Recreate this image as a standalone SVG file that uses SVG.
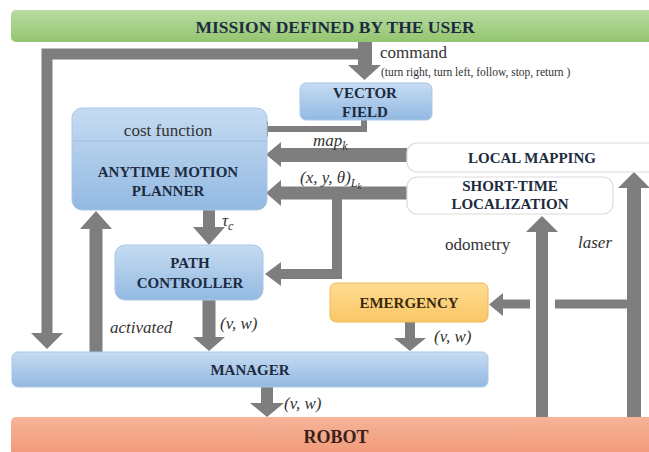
<svg xmlns="http://www.w3.org/2000/svg" width="649" height="452" viewBox="0 0 649 452">
  <defs>
    <linearGradient id="gBlue" x1="0" y1="0" x2="0" y2="1">
      <stop offset="0" stop-color="#c6dcf2"/>
      <stop offset="1" stop-color="#93b9e2"/>
    </linearGradient>
    <linearGradient id="gGreen" x1="0" y1="0" x2="0" y2="1">
      <stop offset="0" stop-color="#b9dca2"/>
      <stop offset="1" stop-color="#93c56f"/>
    </linearGradient>
    <linearGradient id="gSalmon" x1="0" y1="0" x2="0" y2="1">
      <stop offset="0" stop-color="#f6b497"/>
      <stop offset="1" stop-color="#f19776"/>
    </linearGradient>
    <linearGradient id="gOrange" x1="0" y1="0" x2="0" y2="1">
      <stop offset="0" stop-color="#fedc92"/>
      <stop offset="1" stop-color="#fac766"/>
    </linearGradient>
    <style>
      text { font-family: "Liberation Serif", "Times New Roman", "DejaVu Serif", serif; }
      .blue { fill: url(#gBlue); stroke: #a9c6e6; stroke-width: 1; }
      .white { fill: #ffffff; stroke: #dcdcdc; stroke-width: 1.2; }
      .title { font-weight: bold; font-size: 15px; fill: #1c2b40; text-anchor: middle; }
      .big { font-size: 17.5px; }
      .plain { font-size: 17px; fill: #333333; }
      .small { font-size: 11.5px; fill: #333333; }
      .ital { font-style: italic; font-size: 17px; fill: #333333; }
      .shaft { fill: none; stroke: #7e7e7e; stroke-linejoin: miter; stroke-linecap: butt; }
      .head { fill: #7e7e7e; }
    </style>
  </defs>

  <rect width="649" height="452" fill="#ffffff"/>

  <!-- connectors -->
  <g id="connectors">
    <!-- command from the mission bar, with branch to the manager -->
    <path class="shaft" stroke-width="14" d="M365 41 V66"/>
    <polygon class="head" points="348,65 381,65 364.5,80"/>
    <path class="shaft" stroke-width="11" d="M365 54 H47 V334"/>
    <polygon class="head" points="31,333 63,333 47,349"/>
    <!-- vector field to cost function -->
    <path class="shaft" stroke-width="6" d="M364 120 V129 H266"/>
    <polygon class="head" points="268,121 268,137 250,129"/>
    <!-- local map to planner -->
    <path class="shaft" stroke-width="14" d="M407 155 H280"/>
    <polygon class="head" points="281,142 281,167 266,154.5"/>
    <!-- pose to planner -->
    <path class="shaft" stroke-width="13" d="M407 193 H280"/>
    <polygon class="head" points="281,180 281,206 266,193"/>
    <!-- pose to path controller -->
    <path class="shaft" stroke-width="10" d="M337 193 V274 H280"/>
    <polygon class="head" points="281,262 281,286 265,274"/>
    <!-- tau_c -->
    <path class="shaft" stroke-width="12" d="M209 210 V228"/>
    <polygon class="head" points="193,227 225,227 209,245"/>
    <!-- path controller to manager -->
    <path class="shaft" stroke-width="13" d="M209 300 V338"/>
    <polygon class="head" points="193,337 225,337 209,351"/>
    <!-- activated -->
    <path class="shaft" stroke-width="13" d="M96 352 V228"/>
    <polygon class="head" points="80,229 112,229 96,211"/>
    <!-- manager to robot -->
    <path class="shaft" stroke-width="12" d="M267 387 V404"/>
    <polygon class="head" points="250,403 284,403 267,417"/>
    <!-- emergency to manager -->
    <path class="shaft" stroke-width="10" d="M410 322 V339"/>
    <polygon class="head" points="394,338 426,338 410,351"/>
    <!-- odometry -->
    <path class="shaft" stroke-width="12" d="M542 417 V231"/>
    <polygon class="head" points="526,232 558,232 542,216"/>
    <!-- laser -->
    <path class="shaft" stroke-width="14" d="M634 417 V187"/>
    <polygon class="head" points="618,188 650,188 634,172"/>
    <!-- laser to emergency, hopping over the odometry line -->
    <path class="shaft" stroke-width="9" d="M634 304 H555"/>
    <path class="shaft" stroke-width="9" d="M530 304 H502"/>
    <polygon class="head" points="503,293 503,316 489,304.5"/>
  </g>

  <!-- connector labels -->
  <g id="labels">
    <text class="plain" x="380" y="58">command</text>
    <text class="small" x="381" y="76">(turn right, turn left, follow, stop, return )</text>
    <text class="ital" x="313" y="146">map<tspan font-size="12" dy="4">k</tspan></text>
    <text class="ital" x="300" y="183">(x, y, θ)<tspan font-size="12" dy="4">L</tspan><tspan font-size="9" dy="2">k</tspan></text>
    <text class="ital" x="222" y="226">τ<tspan font-size="12" dy="4">c</tspan></text>
    <text class="ital" x="220" y="329">(v, w)</text>
    <text class="ital" x="110" y="333">activated</text>
    <text class="ital" x="434" y="342">(v, w)</text>
    <text class="ital" x="284" y="409">(v, w)</text>
    <text class="plain" x="445" y="250">odometry</text>
    <text class="ital" x="578" y="248">laser</text>
  </g>

  <g id="mission">
    <rect x="11" y="10" width="650" height="32" rx="5" fill="url(#gGreen)"/>
    <text class="title big" x="335" y="33" fill="#1f2a1a">MISSION DEFINED BY THE USER</text>
  </g>

  <g id="vector-field">
    <rect class="blue" x="300" y="83" width="132" height="37" rx="6"/>
    <text class="title" x="365" y="98">VECTOR</text>
    <text class="title" x="365" y="117">FIELD</text>
  </g>

  <g id="planner">
    <rect class="blue" x="72" y="108" width="195" height="102" rx="10"/>
    <line x1="73" y1="141" x2="266" y2="141" stroke="#9dbde0" stroke-width="1"/>
    <text class="plain" x="168" y="136" text-anchor="middle">cost function</text>
    <text class="title" x="168" y="177">ANYTIME MOTION</text>
    <text class="title" x="168" y="196">PLANNER</text>
  </g>

  <g id="local-mapping">
    <rect class="white" x="407" y="143" width="260" height="29" rx="10"/>
    <text class="title" x="532" y="163">LOCAL MAPPING</text>
  </g>

  <g id="localization">
    <rect class="white" x="407" y="177" width="206" height="37" rx="10"/>
    <text class="title" x="510" y="191">SHORT-TIME</text>
    <text class="title" x="510" y="209">LOCALIZATION</text>
  </g>

  <g id="path-controller">
    <rect class="blue" x="115" y="245" width="148" height="55" rx="10"/>
    <text class="title" x="190" y="268">PATH</text>
    <text class="title" x="190" y="288">CONTROLLER</text>
  </g>

  <g id="emergency">
    <rect x="330" y="283" width="158" height="39" rx="6" fill="url(#gOrange)" stroke="#f2b45e" stroke-width="1"/>
    <text class="title" x="409" y="308" style="fill:#3a2a10">EMERGENCY</text>
  </g>

  <g id="manager">
    <rect class="blue" x="12" y="352" width="476" height="35" rx="6"/>
    <text class="title" x="250" y="375">MANAGER</text>
  </g>

  <g id="robot">
    <rect x="11" y="417" width="650" height="42" rx="5" fill="url(#gSalmon)"/>
    <text class="title" x="336" y="443" style="font-size:18px;fill:#3a2018">ROBOT</text>
  </g>
</svg>
